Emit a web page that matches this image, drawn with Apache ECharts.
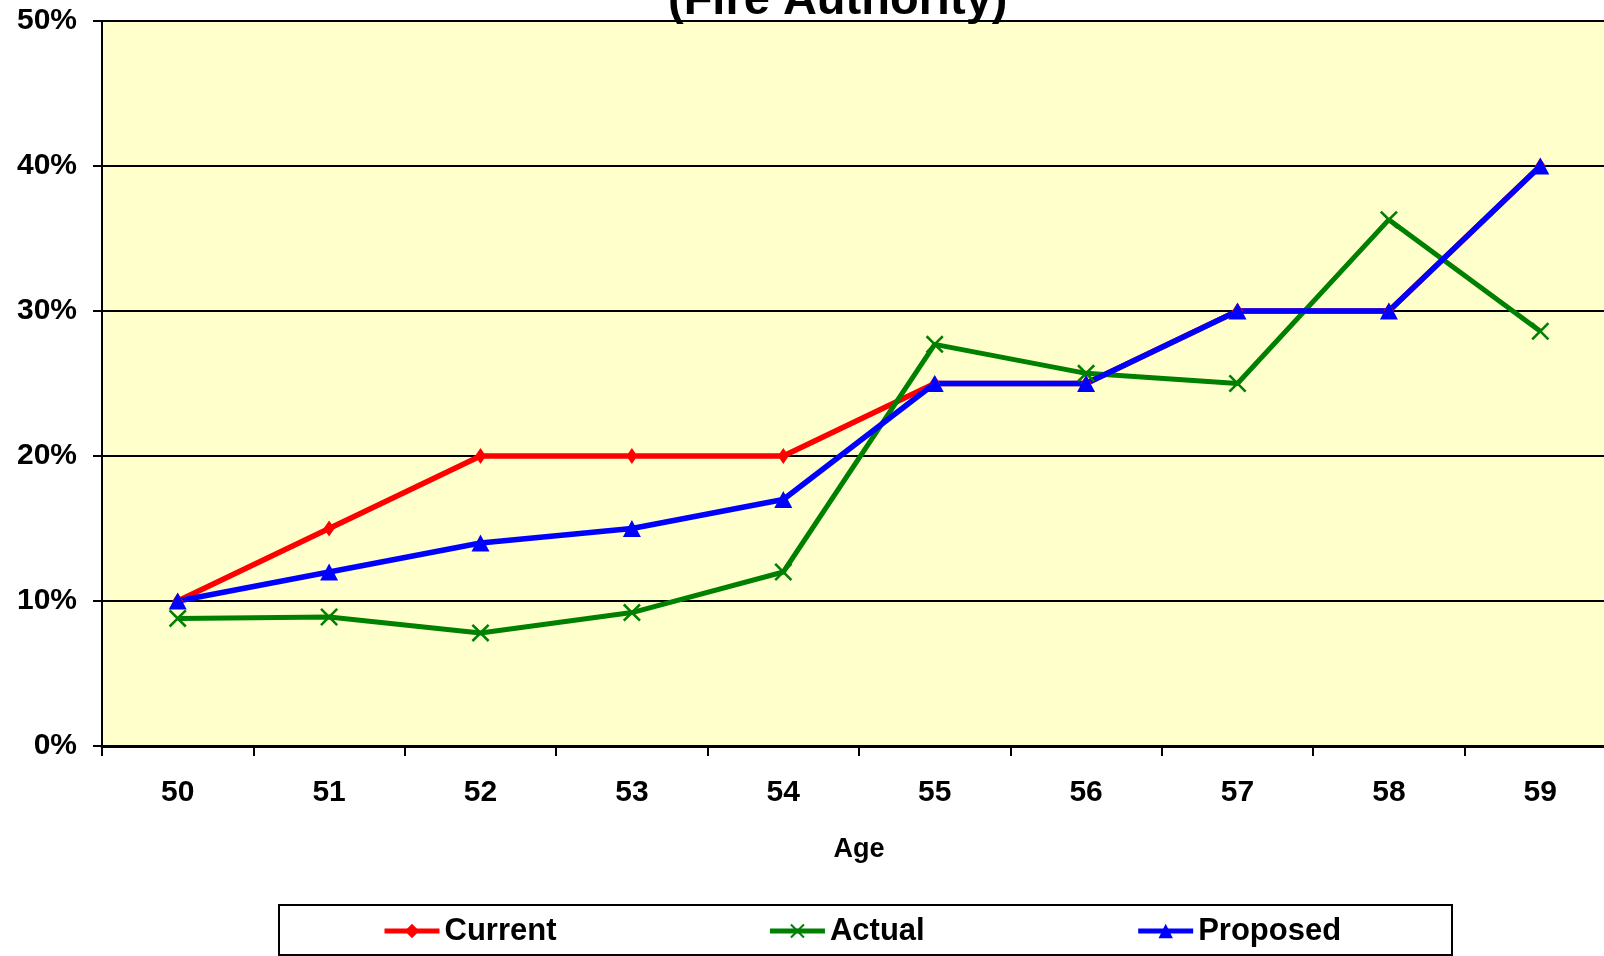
<!DOCTYPE html>
<html>
<head>
<meta charset="utf-8">
<script src="https://cdn.jsdelivr.net/npm/echarts@6/dist/echarts.min.js"></script>
<style>
  html, body { margin: 0; padding: 0; background: #fff; }
  #chart { width: 1604px; height: 956px; }
</style>
</head>
<body>
<div id="chart"></div>
<script>
  // ages on the x axis
  var ages = ['50', '51', '52', '53', '54', '55', '56', '57', '58', '59'];
  // rates in percent
  var current = [10, 15, 20, 20, 20, 25, 25, 30, 30, 40];
  var actual = [8.8, 8.9, 7.8, 9.2, 12.0, 27.7, 25.7, 25.0, 36.3, 28.6];
  var proposed = [10, 12, 14, 15, 17, 25, 25, 30, 30, 40];
  var yTicks = [0, 10, 20, 30, 40, 50];

  var font = "'Liberation Sans', Arial, sans-serif";
  var xMark = 'path://M0,1 L1,0 L5,4 L9,0 L10,1 L6,5 L10,9 L9,10 L5,6 L1,10 L0,9 L4,5 Z';

  var chart = echarts.init(document.getElementById('chart'));
  chart.setOption({
    animation: false,
    title: {
      text: '(Fire Authority)',
      left: 668,
      top: -22,
      padding: 0,
      textStyle: { fontFamily: font, fontSize: 47, fontWeight: 'bold', color: '#000' }
    },
    grid: {
      left: 102,
      top: 21,
      width: 1514,
      height: 725,
      containLabel: false,
      outerBoundsMode: 'none',
      show: true,
      backgroundColor: '#FFFFCC',
      borderWidth: 0
    },
    legend: {
      left: 377,
      top: 910,
      itemWidth: 55,
      itemHeight: 18,
      itemGap: 211,
      lineStyle: { width: 5 },
      textStyle: { fontFamily: font, fontSize: 31, fontWeight: 'bold', color: '#000', lineHeight: 32 },
      data: ['Current', 'Actual', 'Proposed']
    },
    graphic: [{
      type: 'rect',
      shape: { x: 279, y: 905, width: 1173, height: 50 },
      style: { fill: 'none', stroke: '#000', lineWidth: 2 },
      silent: true
    }],
    xAxis: {
      type: 'category',
      data: ages,
      boundaryGap: true,
      name: 'Age',
      nameLocation: 'middle',
      nameGap: 90,
      nameTextStyle: { fontFamily: font, fontSize: 27, fontWeight: 'bold', color: '#000', verticalAlign: 'top' },
      axisLine: { show: true, lineStyle: { color: '#000', width: 3 } },
      axisTick: { show: true, length: 10, lineStyle: { color: '#000', width: 2 } },
      axisLabel: { margin: 32, fontFamily: font, fontSize: 30, fontWeight: 'bold', color: '#000' },
      splitLine: { show: false }
    },
    yAxis: {
      type: 'value',
      min: yTicks[0],
      max: yTicks[yTicks.length - 1],
      interval: 10,
      axisLine: { show: true, lineStyle: { color: '#000', width: 2 } },
      axisTick: { show: true, length: 9, lineStyle: { color: '#000', width: 2 } },
      axisLabel: { margin: 25, formatter: '{value}%', fontFamily: font, fontSize: 30, fontWeight: 'bold', color: '#000' },
      splitLine: { show: true, lineStyle: { color: '#000', width: 2 } }
    },
    series: [{
      name: 'Current',
      type: 'line',
      data: current,
      symbol: 'diamond',
      symbolSize: [11, 16],
      lineStyle: { color: '#FF0000', width: 5.5 },
      itemStyle: { color: '#FF0000' }
    }, {
      name: 'Actual',
      type: 'line',
      data: actual,
      symbol: xMark,
      symbolSize: 18,
      lineStyle: { color: '#008000', width: 5 },
      itemStyle: { color: '#008000' }
    }, {
      name: 'Proposed',
      type: 'line',
      data: proposed,
      symbol: 'triangle',
      symbolSize: [18, 17],
      lineStyle: { color: '#0000FF', width: 5.5 },
      itemStyle: { color: '#0000FF' }
    }]
  });
</script>
</body>
</html>
